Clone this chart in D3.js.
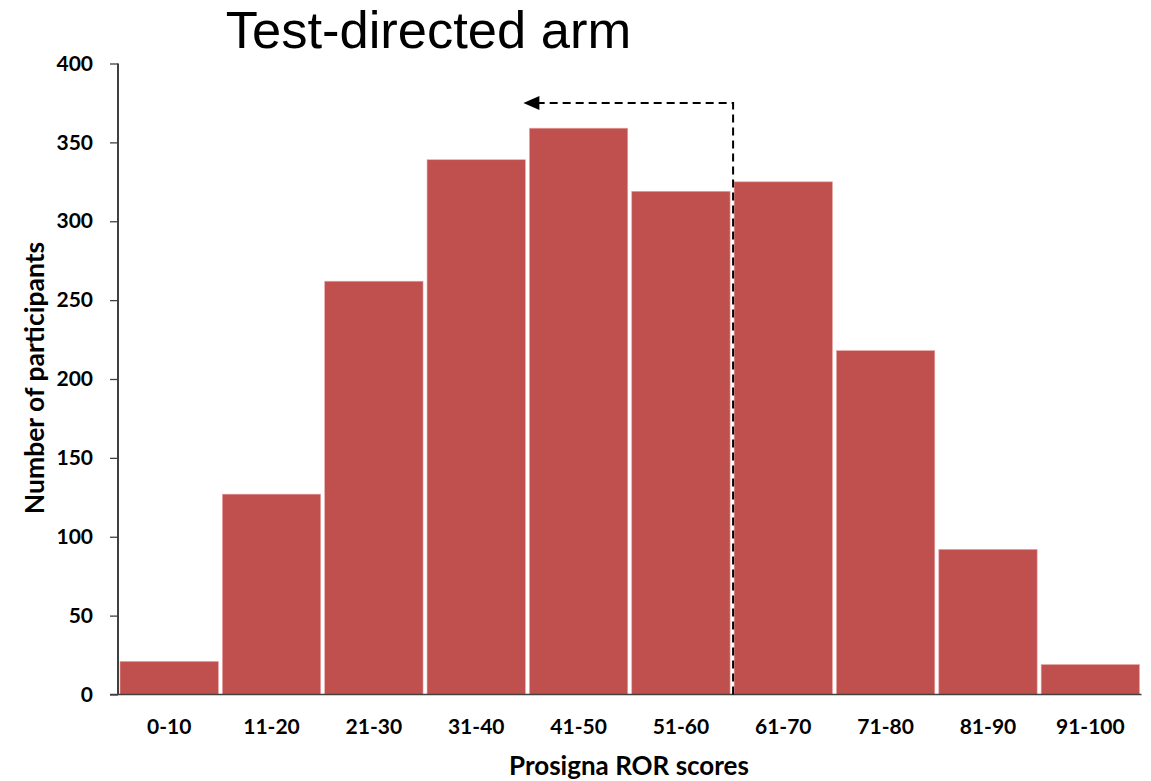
<!DOCTYPE html>
<html>
<head>
<meta charset="utf-8">
<script src="https://cdn.jsdelivr.net/npm/d3@7"></script>
<style>
  body { margin: 0; background: #fff; }
  svg { display: block; }
</style>
</head>
<body>
<div class="visHolder"></div>
<script>
let categories = ["0-10", "11-20", "21-30", "31-40", "41-50", "51-60", "61-70", "71-80", "81-90", "91-100"];
let participants = [21, 127, 262, 339, 359, 319, 325, 218, 92, 19];
let yTicks = [0, 50, 100, 150, 200, 250, 300, 350, 400];

let width = 1151;
let height = 781;
let margin = { top: 63.5, right: 10, bottom: 86.5, left: 118 };
let innerW = 1141.5 - margin.left;
let innerH = height - margin.top - margin.bottom;

let svg = d3
  .select(".visHolder")
  .append("svg")
  .attr("width", width)
  .attr("height", height);

let g = svg.append("g").attr("transform", "translate(" + margin.left + "," + margin.top + ")");

let xScale = d3.scaleBand().domain(categories).range([0, innerW]).paddingInner(0).paddingOuter(0);
let yScale = d3.scaleLinear().domain([0, 400]).range([innerH, 0]);

// bars
g.selectAll("rect.bar")
  .data(participants)
  .enter()
  .append("rect")
  .attr("class", "bar")
  .attr("x", (d, i) => xScale(categories[i]) + 2)
  .attr("y", (d) => yScale(d))
  .attr("width", xScale.bandwidth() - 4)
  .attr("height", (d) => innerH - yScale(d))
  .attr("fill", "#C0504D")
  .attr("stroke", "#e8a8a6")
  .attr("stroke-width", 0.6);

// axes
let yAxis = d3.axisLeft(yScale).tickValues(yTicks).tickSize(8).tickPadding(17);
let gy = g.append("g").attr("id", "y-axis").call(yAxis);
gy.select(".domain").attr("d", "M0," + innerH + "V0").attr("stroke", "#000").attr("stroke-width", 1.5);
gy.selectAll(".tick line").attr("stroke", "#404040").attr("stroke-width", 1.3);
gy.selectAll(".tick text")
  .attr("font-family", "Lato, 'Open Sans', sans-serif")
  .attr("font-weight", "bold")
  .attr("font-size", 21)
  .attr("fill", "#000");

let xAxis = d3.axisBottom(xScale).tickSize(0).tickPadding(25);
let gx = g.append("g").attr("id", "x-axis").attr("transform", "translate(0," + innerH + ")").call(xAxis);
gx.select(".domain").attr("d", "M-8,0H" + innerW).attr("stroke", "#404040").attr("stroke-width", 1.5);
gx.selectAll(".tick text")
  .attr("font-family", "Lato, 'Open Sans', sans-serif")
  .attr("font-weight", "bold")
  .attr("font-size", 21)
  .attr("fill", "#000");

// dashed arrow: from boundary 51-60 / 61-70 up and left to 41-50
let xSplit = xScale("61-70") + 1;
let xTip = xScale("41-50") - 4;
let yArrow = yScale(375);

g.append("path")
  .attr("d", "M" + xSplit + "," + innerH + "V" + yArrow + "H" + (xTip + 14))
  .attr("fill", "none")
  .attr("stroke", "#000")
  .attr("stroke-width", 2)
  .attr("stroke-dasharray", "8,5");

g.append("path")
  .attr("d", "M" + (xTip + 16) + "," + (yArrow - 7) + "L" + xTip + "," + yArrow + "L" + (xTip + 16) + "," + (yArrow + 7) + "Z")
  .attr("fill", "#000");

// labels
svg.append("text")
  .attr("x", 428.5)
  .attr("y", 48)
  .attr("text-anchor", "middle")
  .attr("font-family", "'Liberation Sans', Arial, sans-serif")
  .attr("font-size", 52.5)
  .attr("fill", "#000")
  .text("Test-directed arm");

svg.append("text")
  .attr("transform", "translate(44,378) rotate(-90)")
  .attr("text-anchor", "middle")
  .attr("font-family", "Lato, 'Open Sans', sans-serif")
  .attr("font-weight", "bold")
  .attr("font-size", 26.5)
  .attr("fill", "#000")
  .text("Number of participants");

svg.append("text")
  .attr("x", 629)
  .attr("y", 775)
  .attr("text-anchor", "middle")
  .attr("font-family", "Lato, 'Open Sans', sans-serif")
  .attr("font-weight", "bold")
  .attr("font-size", 26)
  .attr("fill", "#000")
  .text("Prosigna ROR scores");
</script>
</body>
</html>
